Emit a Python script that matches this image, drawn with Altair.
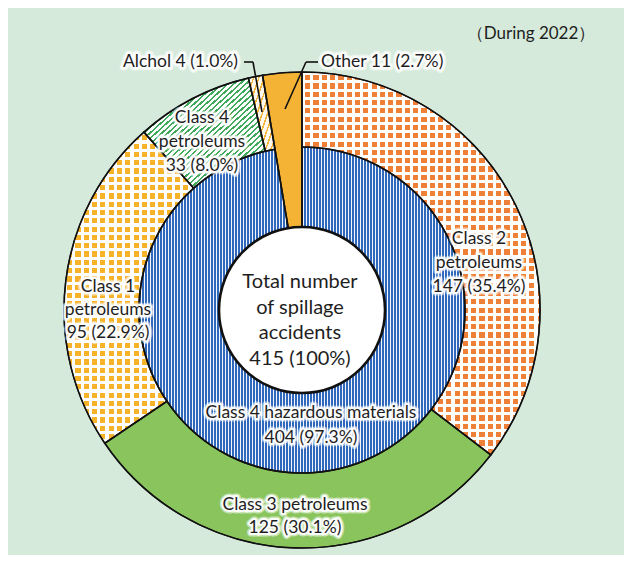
import math
import numpy as np
import pandas as pd
import altair as alt

# ---------------- data ----------------
outer_cats = ["Class 2 petroleums", "Class 3 petroleums", "Class 1 petroleums",
              "Class 4 petroleums", "Alchol", "Other"]
outer_counts = [147, 125, 95, 33, 4, 11]
outer_pcts = ["35.4", "30.1", "22.9", "8.0", "1.0", "2.7"]

inner_cats = ["Class 4 hazardous materials", "Other"]
inner_counts = [404, 11]
inner_pcts = ["97.3", "2.7"]

total_count = 415
total_pct = "100"
center_title = "Total number\nof spillage\naccidents"
period_note = "（During 2022）"

# ---------------- tables ----------------
def make_table(cats, counts):
    c = np.cumsum(counts)
    return pd.DataFrame({"cat": cats, "count": counts,
                         "start": c - np.array(counts), "end": c})

outer_df = make_table(outer_cats, outer_counts)
inner_df = make_table(inner_cats, inner_counts)
full_df = pd.DataFrame({"cat": ["all"], "start": [0], "end": [total_count]})

# ---------------- geometry / style ----------------
CX, CY = 294, 302
R0, R1, R2 = 83, 163, 238
FONT = "Lato"
TXT = "#1e1e1e"
theta_scale = alt.Scale(domain=[0, total_count], range=[0, 2 * math.pi])


def bbox(s, e, r_in, r_out):
    a = np.linspace(2 * math.pi * s / total_count, 2 * math.pi * e / total_count, 600)
    xs = np.concatenate([r_out * np.sin(a), r_in * np.sin(a)])
    ys = np.concatenate([-r_out * np.cos(a), -r_in * np.cos(a)])
    return xs.max() - xs.min(), ys.max() - ys.min()


def stripes(col_a, col_b, n, duty, x1, y1, x2, y2):
    stops = []
    k = 0
    while k < n:
        o0 = round(k / n, 5)
        o1 = round(min((k + duty) / n, 1.0), 5)
        o2 = round(min((k + 1) / n, 1.0), 5)
        stops += [{"offset": o0, "color": col_a}, {"offset": o1, "color": col_a},
                  {"offset": o1, "color": col_b}, {"offset": o2, "color": col_b}]
        k += 1
    return {"gradient": "linear", "x1": x1, "y1": y1, "x2": x2, "y2": y2, "stops": stops}


def arc(df, cat, r_in, r_out, fill, **kw):
    ch = alt.Chart(df)
    if cat is not None:
        ch = ch.transform_filter(alt.datum.cat == cat)
    return ch.mark_arc(fill=fill, innerRadius=r_in, outerRadius=r_out, x=CX, y=CY, **kw).encode(
        theta=alt.Theta("start:Q", scale=theta_scale, stack=None),
        theta2="end:Q",
    )


CLEAR = "rgba(255,255,255,0)"


def diamond_layers(df, cat, r_in, r_out, color, period=8.3, white=0.38):
    row = df[df.cat == cat].iloc[0]
    w, h = bbox(row.start, row.end, r_in, r_out)
    v = stripes("#ffffff", CLEAR, w / period, white, 0, 0, 1, 0)
    hz = stripes("#ffffff", CLEAR, h / period, white, 0, 0, 0, 1)
    return [arc(df, cat, r_in, r_out, color),
            arc(df, cat, r_in, r_out, v),
            arc(df, cat, r_in, r_out, hz)]


def hatch_layers(df, cat, r_in, r_out, base, color, period, duty):
    row = df[df.cat == cat].iloc[0]
    w, h = bbox(row.start, row.end, r_in, r_out)
    n = 2.0 / (period * math.sqrt(1 / w ** 2 + 1 / h ** 2))
    g = stripes(color, CLEAR, n, duty, 0, 0, 1, 1)
    return [arc(df, cat, r_in, r_out, base), arc(df, cat, r_in, r_out, g)]


layers = []
# outer ring fills
layers += diamond_layers(outer_df, outer_cats[0], R1, R2, "#ee8037")
layers.append(arc(outer_df, outer_cats[1], R1, R2, "#89c45c"))
layers += diamond_layers(outer_df, outer_cats[2], R1, R2, "#f6b229")
layers += hatch_layers(outer_df, outer_cats[3], R1, R2, "#ffffff", "#3fa95c", 4.0, 0.4)
layers += hatch_layers(outer_df, outer_cats[4], R1, R2, "#fffaf0", "#f3b53c", 5.0, 0.3)
# inner ring: blue vertical stripes
bw, bh = bbox(0, inner_counts[0], R0, R1)
blue = stripes("#3069bb", "#f2f6fc", bw / 3.0, 0.58, 0, 0, 1, 0)
layers.append(arc(inner_df, inner_cats[0], R0, R1, blue))
# "Other" spans both rings
layers.append(arc(outer_df, outer_cats[5], R0, R2, "#f5b336"))

# outlines
layers.append(arc(outer_df[outer_df.cat != outer_cats[5]], None, R1, R2, "#ffffff",
                  fillOpacity=0, stroke="#111111", strokeWidth=1.6))
layers.append(arc(inner_df, inner_cats[0], R0, R1, "#ffffff",
                  fillOpacity=0, stroke="#111111", strokeWidth=1.6))
layers.append(arc(outer_df, outer_cats[5], R0, R2, "#ffffff",
                  fillOpacity=0, stroke="#111111", strokeWidth=1.6))
# outer border slightly heavier
layers.append(arc(full_df, None, R2, R2, "#ffffff", fillOpacity=0,
                  stroke="#111111", strokeWidth=1.2))
# centre disc
layers.append(arc(full_df, None, 0, R0, "#ffffff", stroke="#111111", strokeWidth=2.6))


# ---------------- labels ----------------
def label(text, x, y, size=17.5, align="center", lh=24):
    d = pd.DataFrame({"t": [text]})
    common = dict(font=FONT, fontSize=size, align=align, baseline="middle",
                  lineBreak="\n", lineHeight=lh)
    glow = alt.Chart(d).mark_text(stroke="white", strokeWidth=7, strokeOpacity=0.55,
                                  strokeJoin="round", fill="white", **common).encode(
        text="t:N", x=alt.value(x), y=alt.value(y))
    halo = alt.Chart(d).mark_text(stroke="white", strokeWidth=4, strokeOpacity=0.95,
                                  strokeJoin="round", fill="white", **common).encode(
        text="t:N", x=alt.value(x), y=alt.value(y))
    fg = alt.Chart(d).mark_text(fill=TXT, **common).encode(
        text="t:N", x=alt.value(x), y=alt.value(y))
    return [glow, halo, fg]


def two_line(cat):
    return cat.replace(" petroleums", "\npetroleums")


txt_c2 = f"{two_line(outer_cats[0])}\n{outer_counts[0]} ({outer_pcts[0]}%)"
txt_c3 = f"{outer_cats[1]}\n{outer_counts[1]} ({outer_pcts[1]}%)"
txt_c1 = f"{two_line(outer_cats[2])}\n{outer_counts[2]} ({outer_pcts[2]}%)"
txt_c4 = f"{two_line(outer_cats[3])}\n{outer_counts[3]} ({outer_pcts[3]}%)"
txt_al = f"{outer_cats[4]} {outer_counts[4]} ({outer_pcts[4]}%)"
txt_ot = f"{outer_cats[5]} {outer_counts[5]} ({outer_pcts[5]}%)"
txt_hz = f"{inner_cats[0]}\n{inner_counts[0]} ({inner_pcts[0]}%)"
txt_ct = f"{center_title}\n{total_count} ({total_pct}%)"

# y = first line position
layers += label(txt_c2, 471, 231)
layers += label(txt_c3, 287, 497, lh=23)
layers += label(txt_c1, 100, 279, lh=23)
layers += label(txt_c4, 194, 110)
layers += label(txt_hz, 303, 405, lh=25)
layers += label(txt_ct, 292, 274, size=20, lh=25.5)
layers += label(txt_al, 230, 54, align="right")
layers += label(txt_ot, 313, 54, align="left")

# note top right
note_df = pd.DataFrame({"t": [period_note]})
layers.append(alt.Chart(note_df).mark_text(font=FONT, fontSize=17, fill=TXT, align="center",
                                           baseline="middle").encode(
    text="t:N", x=alt.value(523), y=alt.value(26)))

# leader lines
seg_df = pd.DataFrame({"k": [0]})
def seg(x1, y1, x2, y2):
    return alt.Chart(seg_df).mark_rule(color="#111111", strokeWidth=1.6).encode(
        x=alt.value(x1), y=alt.value(y1), x2=alt.value(x2), y2=alt.value(y2))

layers += [seg(236, 54, 245, 54), seg(245, 54, 254, 104),
           seg(298, 54, 310, 54), seg(298, 54, 277, 101)]

chart = alt.layer(*layers).properties(
    width=616, height=547, background="#d6eadb", padding=0,
    autosize=alt.AutoSizeParams(type="none"),
).configure_view(stroke=None)

chart.save("out.html", embed_options={"renderer": "svg", "actions": False})
